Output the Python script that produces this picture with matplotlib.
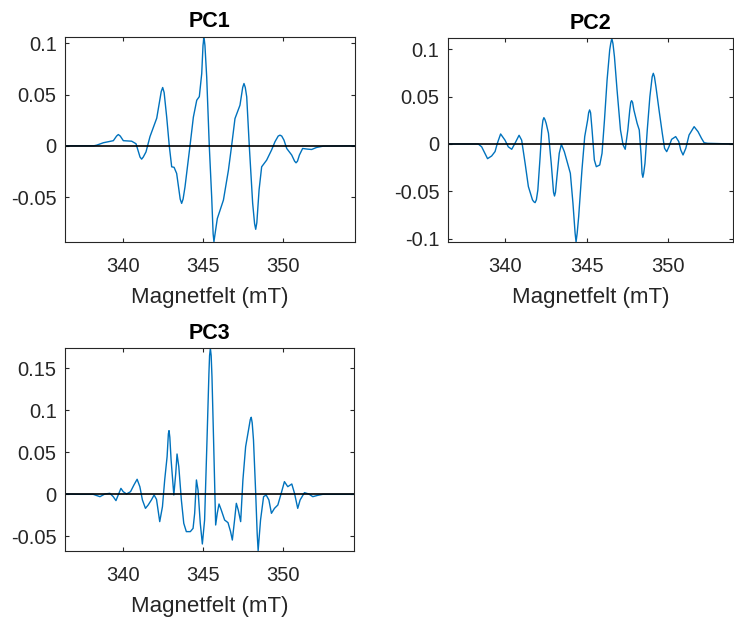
import numpy as np
import matplotlib
matplotlib.use("Agg")
from matplotlib import pyplot as plt

plt.rcParams['font.family'] = ['Liberation Sans', 'DejaVu Sans']
plt.rcParams['axes.unicode_minus'] = False

# PC1 (mT, loading)
pc1_x = [336.41, 338.2, 338.38, 338.80, 339.42, 339.62, 339.73, 339.85, 340.04, 340.56,
         340.83, 341.08, 341.18, 341.28, 341.45, 341.70, 342.12, 342.40, 342.49, 342.58,
         342.74, 342.90, 343.05, 343.20, 343.36, 343.58, 343.67, 343.76, 343.88, 344.19,
         344.40, 344.61, 344.77, 344.92, 345.0, 345.06, 345.12, 345.23, 345.39, 345.54,
         345.63, 345.68, 345.74, 345.89, 346.27, 346.58, 346.78, 346.99, 347.30, 347.47,
         347.55, 347.63, 347.72, 347.88, 348.09, 348.21, 348.28, 348.35, 348.49, 348.65,
         348.96, 349.27, 349.48, 349.68, 349.79, 349.90, 350.04, 350.21, 350.52, 350.70,
         350.79, 350.88, 351.00, 351.20, 351.49, 351.76, 352.07, 352.49, 354.46]
pc1_y = [0, 0, 0.0006, 0.003, 0.005, 0.0095, 0.011, 0.0095, 0.005, 0.0045,
         0.002, -0.011, -0.013, -0.011, -0.006, 0.009, 0.027, 0.053, 0.0569, 0.052,
         0.028, 0.0, -0.0205, -0.021, -0.027, -0.052, -0.0562, -0.052, -0.040, 0.0,
         0.028, 0.0445, 0.048, 0.0705, 0.098, 0.1062, 0.098, 0.067, 0.0, -0.050,
         -0.086, -0.0936, -0.087, -0.071, -0.053, -0.024, 0.0, 0.0266, 0.0396, 0.057,
         0.0608, 0.057, 0.0478, 0.0, -0.056, -0.076, -0.0815, -0.075, -0.043, -0.0205,
         -0.014, -0.004, 0.004, 0.0095, 0.0104, 0.0095, 0.0055, -0.0026, -0.009, -0.015,
         -0.0166, -0.015, -0.009, -0.0026, -0.0032, -0.0036, -0.0016, -0.0003, 0]

# PC2
pc2_x = [336.49, 338.36, 338.57, 338.93, 339.18, 339.39, 339.53, 339.73, 340.00, 340.20,
         340.41, 340.61, 340.86, 341.02, 341.23, 341.43, 341.68, 341.76, 341.84, 341.92,
         342.01, 342.15, 342.25, 342.32, 342.38, 342.44, 342.52, 342.66, 342.83, 342.97,
         343.03, 343.09, 343.18, 343.32, 343.45, 343.63, 343.83, 344.00, 344.16, 344.29,
         344.35, 344.42, 344.51, 344.71, 344.88, 345.06, 345.12, 345.18, 345.24, 345.33,
         345.47, 345.59, 345.80, 345.94, 346.09, 346.25, 346.41, 346.47, 346.54, 346.61,
         346.70, 346.86, 347.07, 347.23, 347.36, 347.52, 347.64, 347.70, 347.75, 347.81,
         347.89, 348.09, 348.22, 348.34, 348.39, 348.44, 348.49, 348.57, 348.71, 348.87,
         349.01, 349.08, 349.15, 349.24, 349.43, 349.63, 349.77, 349.90, 350.04, 350.20,
         350.45, 350.64, 350.76, 350.90, 351.07, 351.27, 351.58, 351.82, 352.03, 352.19,
         352.40, 353.96]
pc2_y = [0, 0, -0.003, -0.0155, -0.0127, -0.008, 0.0007, 0.0106, 0.004, -0.003,
         -0.0056, 0.0007, 0.0092, 0.004, -0.0204, -0.045, -0.059, -0.061, -0.062, -0.059,
         -0.0486, -0.0134, 0.0148, 0.025, 0.0278, 0.026, 0.0218, 0.0113, -0.0204, -0.051,
         -0.055, -0.051, -0.0345, -0.0099, -0.0004, -0.008, -0.0204, -0.031, -0.0627, -0.094,
         -0.1036, -0.094, -0.0768, -0.0275, 0.0078, 0.0254, 0.033, 0.036, 0.033, 0.0148,
         -0.0169, -0.024, -0.0222, -0.0099, 0.0254, 0.0677, 0.0994, 0.106, 0.1117, 0.106,
         0.0923, 0.0571, 0.0148, -0.0011, -0.0056, 0.0148, 0.036, 0.044, 0.0458, 0.044,
         0.036, 0.0218, 0.0148, -0.0134, -0.031, -0.0352, -0.031, -0.0204, 0.0148, 0.05,
         0.071, 0.0747, 0.071, 0.0606, 0.036, 0.0113, -0.0046, -0.0081, -0.0028, 0.0049,
         0.0078, 0.0025, -0.0063, -0.0116, -0.0046, 0.0095, 0.0183, 0.013, 0.006, 0.0014,
         0.0007, 0]

# PC3
pc3_x = [336.41, 337.34, 338.17, 338.59, 338.90, 339.21, 339.42, 339.59, 339.73, 339.90,
         340.04, 340.25, 340.50, 340.71, 340.91, 341.08, 341.24, 341.43, 341.60, 341.80,
         341.97, 342.12, 342.32, 342.49, 342.63, 342.78, 342.86, 342.90, 342.95, 343.03,
         343.20, 343.32, 343.40, 343.51, 343.67, 343.82, 343.98, 344.23, 344.40, 344.50,
         344.61, 344.71, 344.85, 344.98, 345.12, 345.27, 345.39, 345.43, 345.48, 345.53,
         345.58, 345.68, 345.81, 345.91, 346.02, 346.16, 346.37, 346.58, 346.74, 346.85,
         346.99, 347.10, 347.22, 347.37, 347.51, 347.68, 347.86, 347.97, 348.03, 348.09,
         348.17, 348.30, 348.40, 348.46, 348.61, 348.80, 348.96, 349.13, 349.29, 349.48,
         349.69, 349.90, 350.10, 350.31, 350.56, 350.73, 350.93, 351.08, 351.35, 351.62,
         351.87, 352.18, 352.49, 354.46]
pc3_y = [0.0004, 0, 0, -0.0028, 0.0004, 0.0012, -0.0028, -0.0075, -0.0008, 0.0071,
         0.0032, 0.0004, 0.0032, 0.0111, 0.0179, 0.0091, -0.0067, -0.0167, -0.0127, -0.0067,
         -0.0008, -0.006, -0.0325, -0.0147, 0.0171, 0.0448, 0.072, 0.0758, 0.068, 0.0409,
         -0.0008, 0.025, 0.048, 0.0329, -0.0067, -0.0345, -0.0444, -0.0444, -0.0405, -0.0226,
         0.0171, 0.0052, -0.0345, -0.0591, -0.0306, 0.0647, 0.144, 0.165, 0.1738, 0.165,
         0.14, 0.0647, -0.0365, -0.0226, -0.0115, -0.0187, -0.0306, -0.0337, -0.0444, -0.0544,
         -0.0306, -0.0107, -0.0187, -0.0325, 0.0171, 0.0567, 0.0766, 0.089, 0.0917, 0.085,
         0.0647, 0.0052, -0.0464, -0.0671, -0.0306, -0.0028, -0.0008, -0.0067, -0.0226, -0.0167,
         -0.0127, 0.0012, 0.0151, 0.0091, 0.0123, 0.0012, -0.0167, -0.0067, 0.002, 0.0004,
         -0.0028, -0.0012, 0, 0]

x_ticks = [340, 345, 350]
pc1_yticks = [-0.05, 0, 0.05, 0.1]
pc2_yticks = [-0.1, -0.05, 0, 0.05, 0.1]
pc3_yticks = [-0.05, 0, 0.05, 0.1, 0.15]

panels = [
    ("PC1", pc1_x, pc1_y, pc1_yticks, (336.41, 354.46), (-0.0936, 0.1062),
     [65/734, 1-241.7/621, 290/734, 204.7/621]),
    ("PC2", pc2_x, pc2_y, pc2_yticks, (336.49, 353.96), (-0.1036, 0.1117),
     [447.7/734, 1-242/621, 285.3/734, 203.7/621]),
    ("PC3", pc3_x, pc3_y, pc3_yticks, (336.41, 354.46), (-0.0671, 0.1738),
     [65/734, 1-550.7/621, 289.3/734, 202.4/621]),
]

fig = plt.figure(figsize=(7.34, 6.21), dpi=100)
grey = '#262626'
for name, xs, ys, yt, xl, yl, pos in panels:
    ax = fig.add_axes(pos)
    ax.plot(xs, ys, color=(0, 0.447, 0.741), lw=1.0)
    ax.axhline(0, color='black', lw=1.2)
    ax.set_xlim(xl)
    ax.set_ylim(yl)
    ax.set_xticks(x_ticks)
    ax.set_xticklabels([str(t) for t in x_ticks])
    ax.set_yticks(yt)
    ax.set_yticklabels(['%g' % t for t in yt])
    ax.tick_params(direction='in', length=3, width=0.8, colors=grey,
                   labelsize=14.5, top=True, right=True)
    ax.tick_params(axis='x', pad=11)
    ax.tick_params(axis='y', pad=6)
    for s in ax.spines.values():
        s.set_color(grey)
        s.set_linewidth(0.8)
    ax.set_title(name, fontsize=15.5, fontweight='bold', pad=7)
    ax.set_xlabel('Magnetfelt (mT)', fontsize=16, color=grey, labelpad=8)

fig.savefig('out.png', dpi=100)
